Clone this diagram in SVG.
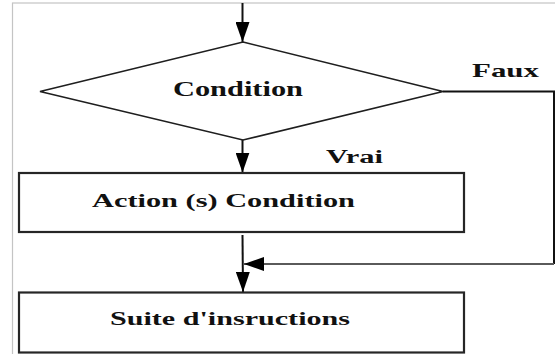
<svg xmlns="http://www.w3.org/2000/svg" width="555" height="354" viewBox="0 0 555 354">
  <style>
    .frame { fill: none; stroke: #c4c4c4; stroke-width: 1.2; }
    .shape { fill: #ffffff; stroke: #1e1e1e; stroke-width: 1.6; }
    .box { fill: #ffffff; stroke: #262626; stroke-width: 2.2; }
    .wire { fill: none; stroke: #111111; stroke-width: 2; }
    .wire-grey { fill: none; stroke: #5a5a5a; stroke-width: 2; }
    .label { font-family: "Liberation Serif", "Times New Roman", serif; font-weight: bold; fill: #111111; }
  </style>
  <defs>
    <marker id="arrow" viewBox="0 0 20 14" refX="20" refY="7" markerWidth="20" markerHeight="14" markerUnits="userSpaceOnUse" orient="auto">
      <path d="M0,0 L20,7 L0,14 Z" fill="#000000"/>
    </marker>
  </defs>

  <rect class="frame" x="12.5" y="3" width="560" height="370"/>

  <g id="connectors">
    <line class="wire" x1="242.5" y1="3" x2="242.5" y2="42" marker-end="url(#arrow)"/>
    <line class="wire" x1="242.5" y1="140" x2="242.5" y2="172.5" marker-end="url(#arrow)"/>
    <polyline class="wire" points="443,91.5 554,91.5 554,264"/>
    <line class="wire-grey" x1="554" y1="264" x2="244" y2="264" marker-end="url(#arrow)"/>
    <line class="wire" x1="242.5" y1="235" x2="243" y2="292" marker-end="url(#arrow)"/>
    <text class="label" x="472" y="77" font-size="19" textLength="67" lengthAdjust="spacingAndGlyphs">Faux</text>
    <text class="label" x="326" y="163" font-size="18" textLength="57" lengthAdjust="spacingAndGlyphs">Vrai</text>
  </g>

  <g id="condition">
    <polygon class="shape" points="243,42 443,91.5 243,140 40,91.5"/>
    <text class="label" x="173" y="96" font-size="22" textLength="130" lengthAdjust="spacingAndGlyphs">Condition</text>
  </g>

  <g id="action">
    <rect class="box" x="19" y="173" width="445" height="59"/>
    <text class="label" x="92" y="207" font-size="19" textLength="263" lengthAdjust="spacingAndGlyphs">Action (s) Condition</text>
  </g>

  <g id="suite">
    <rect class="box" x="19" y="292.5" width="445" height="60"/>
    <text class="label" x="110" y="325" font-size="19" textLength="240" lengthAdjust="spacingAndGlyphs">Suite d'insructions</text>
  </g>
</svg>
